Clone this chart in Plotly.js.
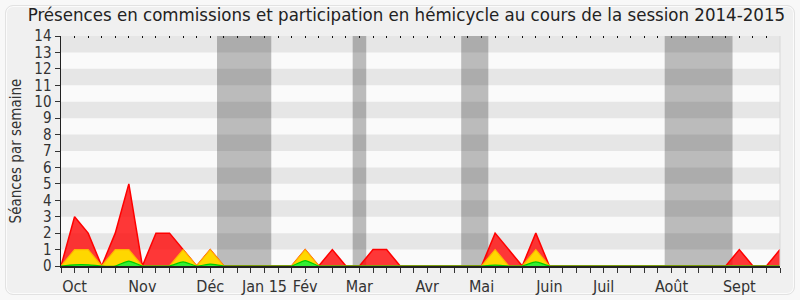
<!DOCTYPE html>
<html>
<head>
<meta charset="utf-8">
<script src="https://cdn.plot.ly/plotly-3.0.1.min.js"></script>
<style>
html,body{margin:0;padding:0;background:#f8f8f8;}
#wrap{position:absolute;left:5px;top:5px;width:788px;height:288px;border:1px solid #e2e2e2;border-radius:8px;background:#f0f0f0;box-shadow:inset 0 0 0 1px #fbfbfb;}
#chart{position:absolute;left:0;top:0;width:800px;height:300px;}
</style>
</head>
<body>
<div id="wrap"></div>
<div id="chart"></div>
<script>
// week index 0..53 of the session (Oct 2014 - Sept 2015)
const weeks = Array.from({length: 54}, (_, i) => i);
const presenceTotal = [0,3,2,0,2,5,0,2,2,1,0,1,0,0,0,0,0,0,1,0,1,0,0,1,1,0,0,0,0,0,0,0,2,1,0,2,0,0,0,0,0,0,0,0,0,0,0,0,0,0,1,0,0,1];
const presenceCommission = [0,1,1,0,1,1,0,0,0,1,0,1,0,0,0,0,0,0,1,0,0,0,0,0,0,0,0,0,0,0,0,0,1,0,0,1,0,0,0,0,0,0,0,0,0,0,0,0,0,0,0,0,0,0];
const participationHemicycle = [0,0.07,0.07,0,0,0.3,0,0,0,0.25,0,0.12,0,0,0,0,0,0,0.33,0,0,0,0,0,0,0,0,0,0,0,0,0,0.05,0,0,0.25,0,0,0,0,0,0,0,0,0,0,0,0,0,0,0,0,0,0];
const monthLabels = {1:"Oct",6:"Nov",11:"Déc",15:"Jan 15",18:"Fév",22:"Mar",27:"Avr",31:"Mai",36:"Juin",40:"Juil",45:"Août",50:"Sept"};
const vacationStart = [11.5, 21.5, 29.5, 44.5];
const vacationEnd = [15.5, 22.5, 31.5, 49.5];
const yMax = 14;

const tickText = weeks.map(w => monthLabels[w] || "");
const FONT = "DejaVu Sans Condensed, DejaVu Sans, sans-serif";

const shapes = [];
for (let y = 1; y < yMax; y += 2) {
  shapes.push({type:"rect", xref:"paper", yref:"y", x0:0, x1:1, y0:y, y1:y+1, fillcolor:"#e6e6e6", line:{width:0}, layer:"below"});
}
for (let k = 0; k < vacationStart.length; k++) {
  shapes.push({type:"rect", xref:"x", yref:"paper", x0:vacationStart[k], x1:vacationEnd[k], y0:0, y1:1, fillcolor:"rgba(0,0,0,0.25)", line:{width:0}, layer:"below"});
}
shapes.push({type:"line", xref:"paper", yref:"paper", x0:1, x1:1, y0:0, y1:1, line:{color:"#d8d8d8", width:1}});

const traces = [
  {x: weeks, y: presenceTotal, type:"scatter", mode:"lines", fill:"tozeroy",
   line:{color:"#ff0000", width:1.5}, fillcolor:"rgba(255,0,0,0.78)", hoverinfo:"skip"},
  {x: weeks, y: presenceCommission, type:"scatter", mode:"lines", fill:"tozeroy",
   line:{color:"#ffb400", width:1.2}, fillcolor:"#ffd700", hoverinfo:"skip"},
  {x: weeks, y: participationHemicycle, type:"scatter", mode:"lines", fill:"tozeroy", line:{color:"#00cc00", width:1.2, shape:"spline", smoothing:0.6},
   fillcolor:"#33ee33", hoverinfo:"skip"},
  {x: [0], y: [0], xaxis:"x2", type:"scatter", mode:"markers", marker:{opacity:0}, hoverinfo:"skip"}
];

const layout = {
  width: 800, height: 300,
  margin: {l: 61, r: 20, t: 36, b: 34},
  paper_bgcolor: "rgba(0,0,0,0)",
  plot_bgcolor: "#fafafa",
  showlegend: false,
  title: {text: "Présences en commissions et participation en hémicycle au cours de la session 2014-2015",
          font: {family: FONT, size: 18.5, color: "#222"}, x: 0.508, xanchor: "center", y: 0.953, yanchor: "middle"},
  xaxis: {range: [0, 53], tickvals: weeks, ticktext: tickText, ticks: "outside", ticklen: 5, tickcolor: "#333",
          showgrid: false, zeroline: false, showline: true, linecolor: "#222", linewidth: 1.5,
          tickfont: {family: FONT, size: 16, color: "#333"}, fixedrange: true},
  xaxis2: {range: [0, 53], overlaying: "x", side: "top", tickvals: weeks, ticks: "inside", ticklen: 2, tickcolor: "#111",
           showticklabels: false, showgrid: false, zeroline: false, showline: false},
  yaxis: {range: [0, yMax], dtick: 1, ticks: "outside", ticklen: 5, tickcolor: "#333", showgrid: false, zeroline: false,
          showline: true, linecolor: "#222", linewidth: 1.5, tickfont: {family: FONT, size: 15, color: "#333"},
          title: {text: "Séances par semaine", font: {family: FONT, size: 15, color: "#333"}, standoff: 9}},
  shapes: shapes
};

Plotly.newPlot("chart", traces, layout, {displayModeBar: false, staticPlot: true});
</script>
</body>
</html>
